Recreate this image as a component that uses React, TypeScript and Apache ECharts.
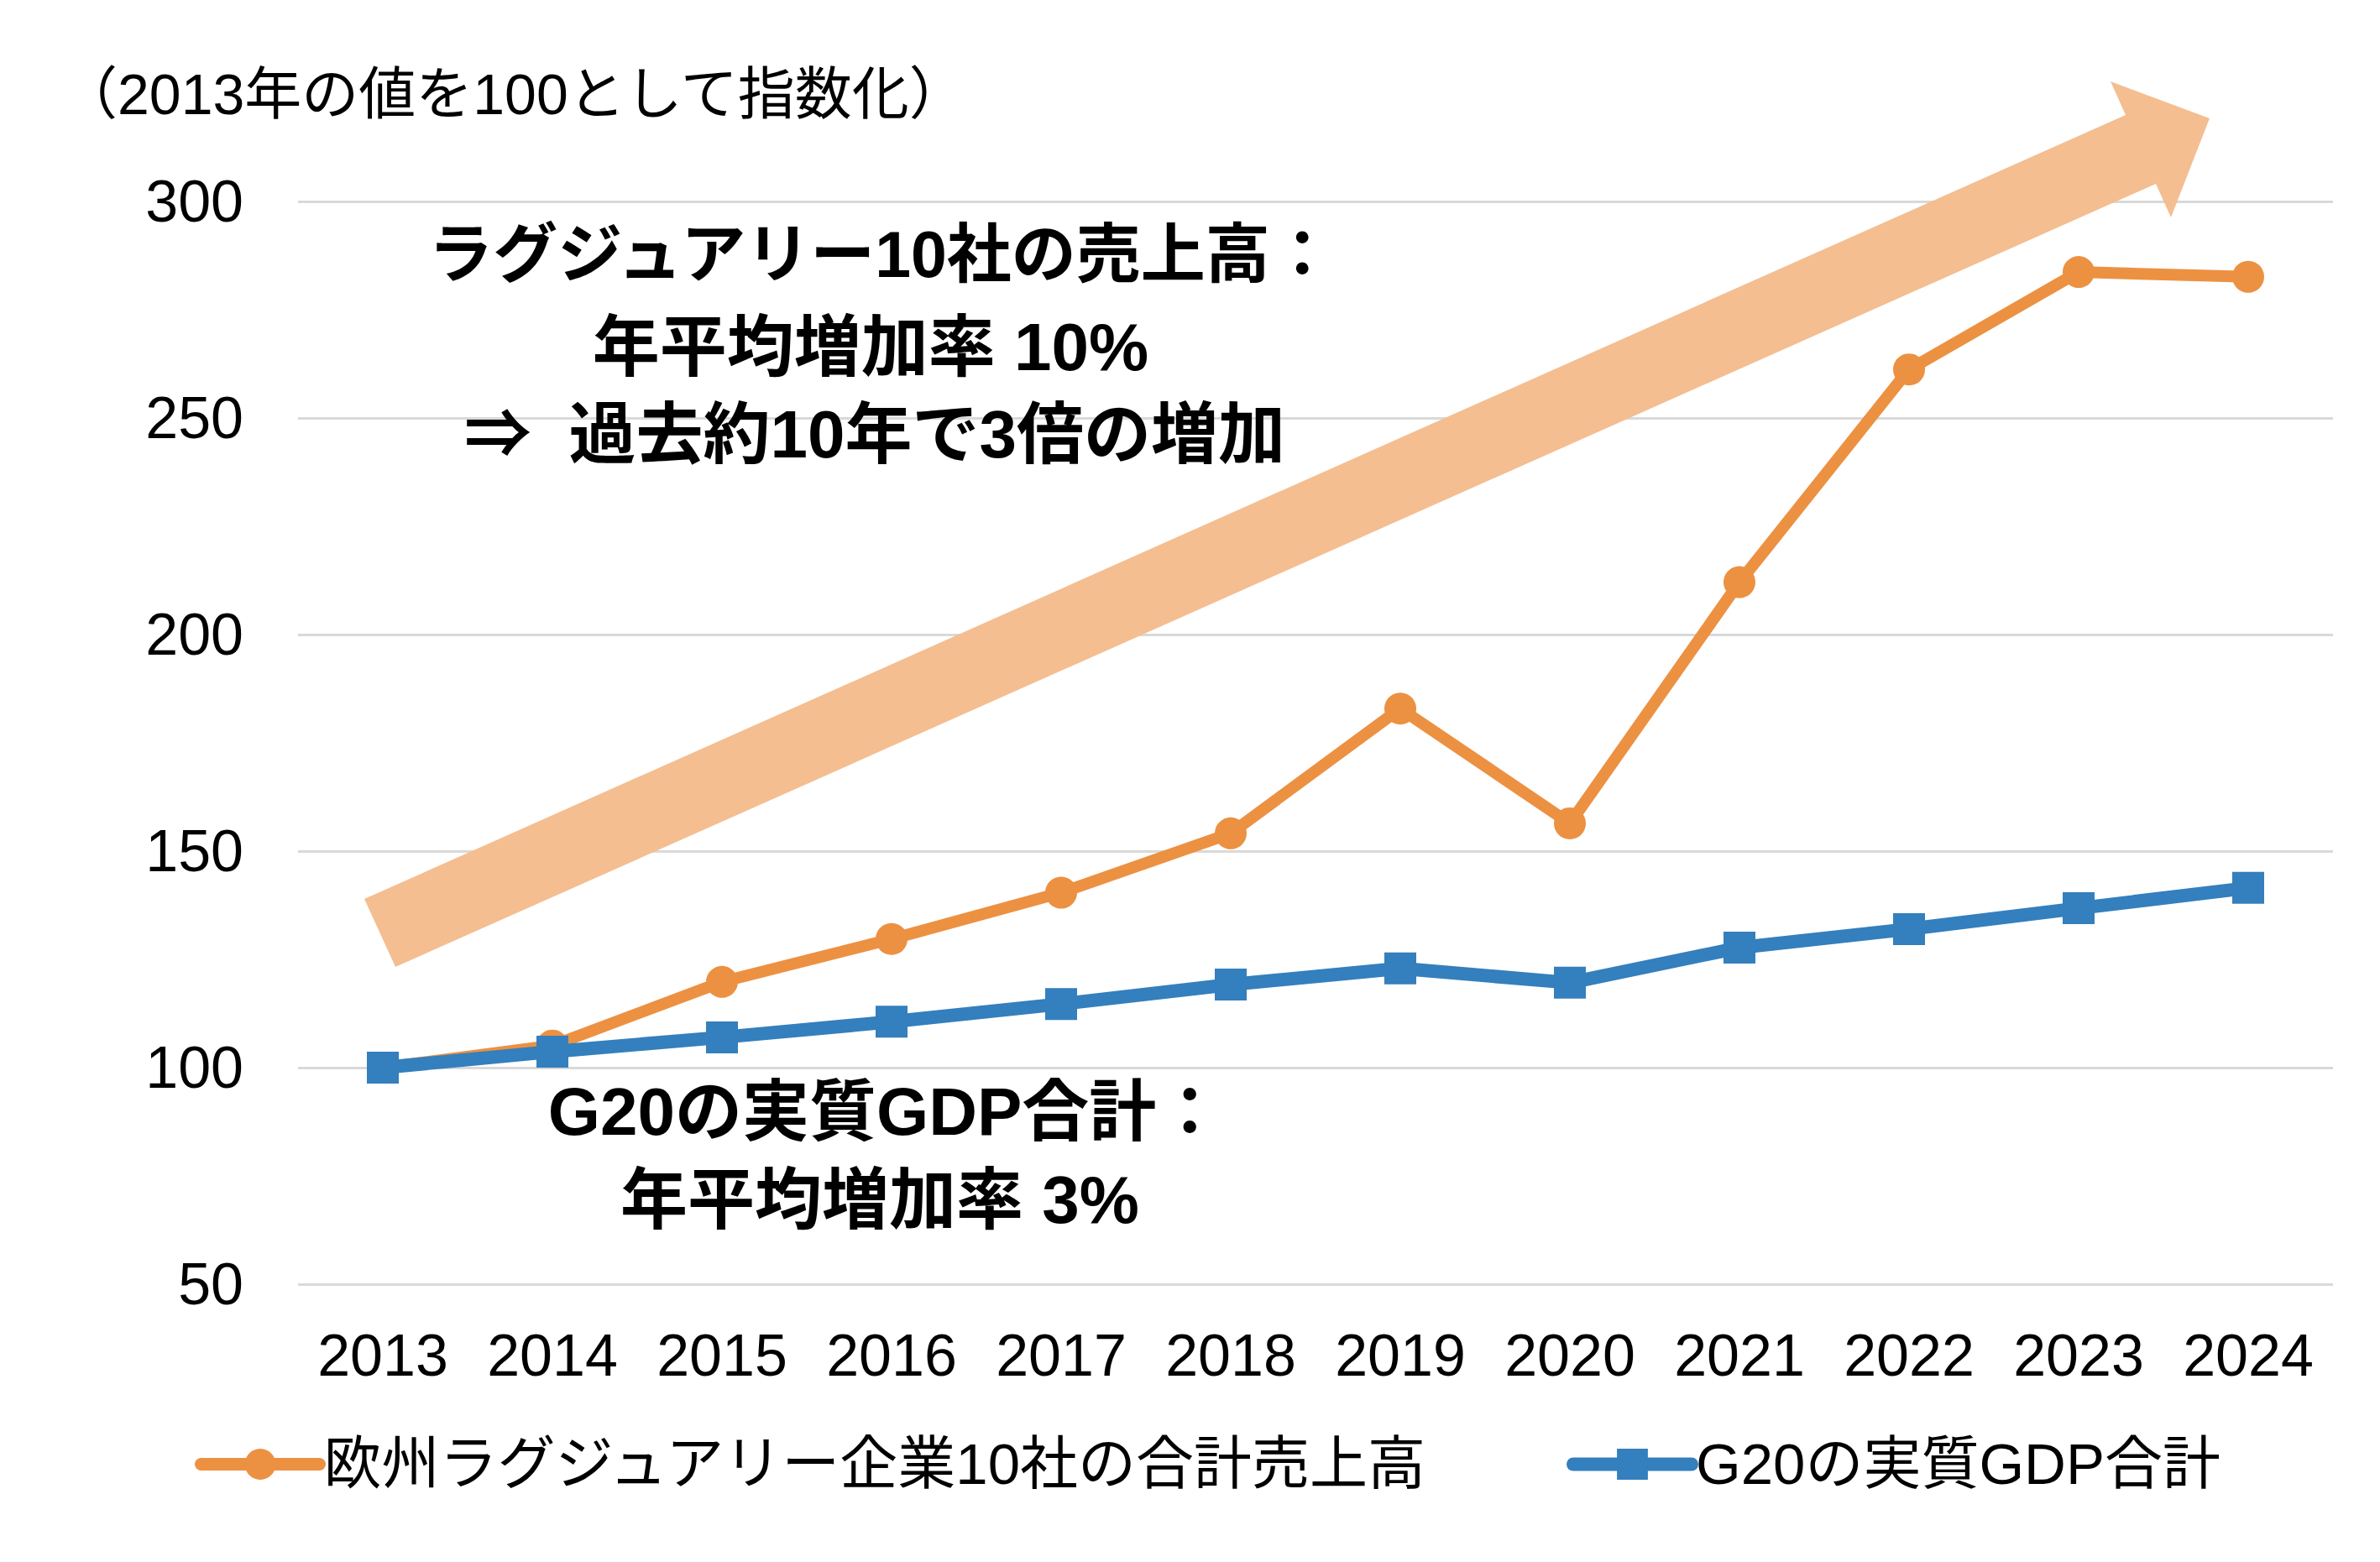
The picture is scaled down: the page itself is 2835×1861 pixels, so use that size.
import React, { useEffect, useRef } from "react";
import * as echarts from "echarts";

const years = ["2013", "2014", "2015", "2016", "2017", "2018", "2019", "2020", "2021", "2022", "2023", "2024"];
const luxurySales = [100, 105.1, 119.8, 129.7, 140.4, 154.1, 182.9, 156.4, 212.1, 261.2, 283.7, 282.6];
const g20Gdp = [100, 103.7, 107.0, 110.6, 114.7, 119.2, 122.9, 119.6, 127.7, 132.0, 136.8, 141.5];
const seriesNames = ["欧州ラグジュアリー企業10社の合計売上高", "G20の実質GDP合計"];
const yMin = 50;
const yMax = 300;
const yStep = 50;
const unitNote = "（2013年の値を100として指数化）";
const luxuryNote = ["ラグジュアリー10社の売上高：", "年平均増加率 10%", "⇒  過去約10年で3倍の増加"];
const g20Note = ["G20の実質GDP合計：", "年平均増加率 3%"];

const FONT = "'Liberation Sans', 'Noto Sans CJK JP', sans-serif";
const ORANGE = "#EC9142";
const BLUE = "#347FBD";
const ARROW = "#F4BE91";

export default function App() {
  const ref = useRef<HTMLDivElement>(null);

  useEffect(() => {
    document.body.style.margin = "0";
    if (!ref.current) return;
    const chart = echarts.init(ref.current, undefined, { renderer: "svg" });

    const textEl = (text: string, x: number, y: number, size: number, bold: boolean, align: string) => ({
      type: "text",
      x,
      y,
      z: 10,
      style: {
        text,
        fill: "#000",
        fontSize: size,
        fontWeight: bold ? "bold" : "normal",
        fontFamily: FONT,
        align,
        verticalAlign: "middle",
        textAlign: align,
        textVerticalAlign: "middle",
      },
    });

    const legendBase = {
      top: 1710,
      itemWidth: 141,
      itemHeight: 46,
      padding: 0,
      textStyle: { fontSize: 69, color: "#000", fontFamily: FONT },
    };

    chart.setOption({
      animation: false,
      backgroundColor: "#fff",
      grid: { left: 355, right: 56, top: 240, bottom: 331, containLabel: false },
      xAxis: {
        type: "category",
        data: years,
        boundaryGap: true,
        axisLine: { show: false },
        axisTick: { show: false },
        axisLabel: { interval: 0, fontSize: 70, color: "#000", fontFamily: FONT, margin: 50 },
      },
      yAxis: {
        type: "value",
        min: yMin,
        max: yMax,
        interval: yStep,
        axisLine: { show: false },
        axisTick: { show: false },
        axisLabel: { fontSize: 70, color: "#000", fontFamily: FONT, margin: 65 },
        splitLine: { lineStyle: { color: "#D9D9D9", width: 3 } },
      },
      legend: [
        { ...legendBase, left: 232, data: [seriesNames[0]], lineStyle: { width: 15, cap: "round" } },
        { ...legendBase, left: 1866, data: [seriesNames[1]], lineStyle: { width: 16, cap: "round" } },
      ],
      series: [
        {
          name: seriesNames[0],
          type: "line",
          data: luxurySales,
          symbol: "circle",
          symbolSize: 38,
          lineStyle: { color: ORANGE, width: 14, cap: "round" },
          itemStyle: { color: ORANGE },
          z: 3,
        },
        {
          name: seriesNames[1],
          type: "line",
          data: g20Gdp,
          symbol: "rect",
          symbolSize: 38,
          lineStyle: { color: BLUE, width: 16, cap: "round" },
          itemStyle: { color: BLUE },
          z: 4,
        },
      ],
      graphic: [
        {
          type: "polygon",
          z: 1,
          shape: {
            points: [
              [434, 1071],
              [2532, 137],
              [2514, 97],
              [2632, 141],
              [2586, 259],
              [2568, 219],
              [471, 1152],
            ],
          },
          style: { fill: ARROW },
        },
        textEl(unitNote, 72, 112, 68, false, "left"),
        textEl(luxuryNote[0], 1050, 303, 77, true, "center"),
        textEl(luxuryNote[1], 1037, 413, 80, true, "center"),
        textEl(luxuryNote[2], 1042, 517, 80, true, "center"),
        textEl(g20Note[0], 1055, 1324, 80, true, "center"),
        textEl(g20Note[1], 1048, 1429, 80, true, "center"),
      ],
    });

    return () => chart.dispose();
  }, []);

  return <div ref={ref} style={{ width: 2835, height: 1861 }} />;
}
